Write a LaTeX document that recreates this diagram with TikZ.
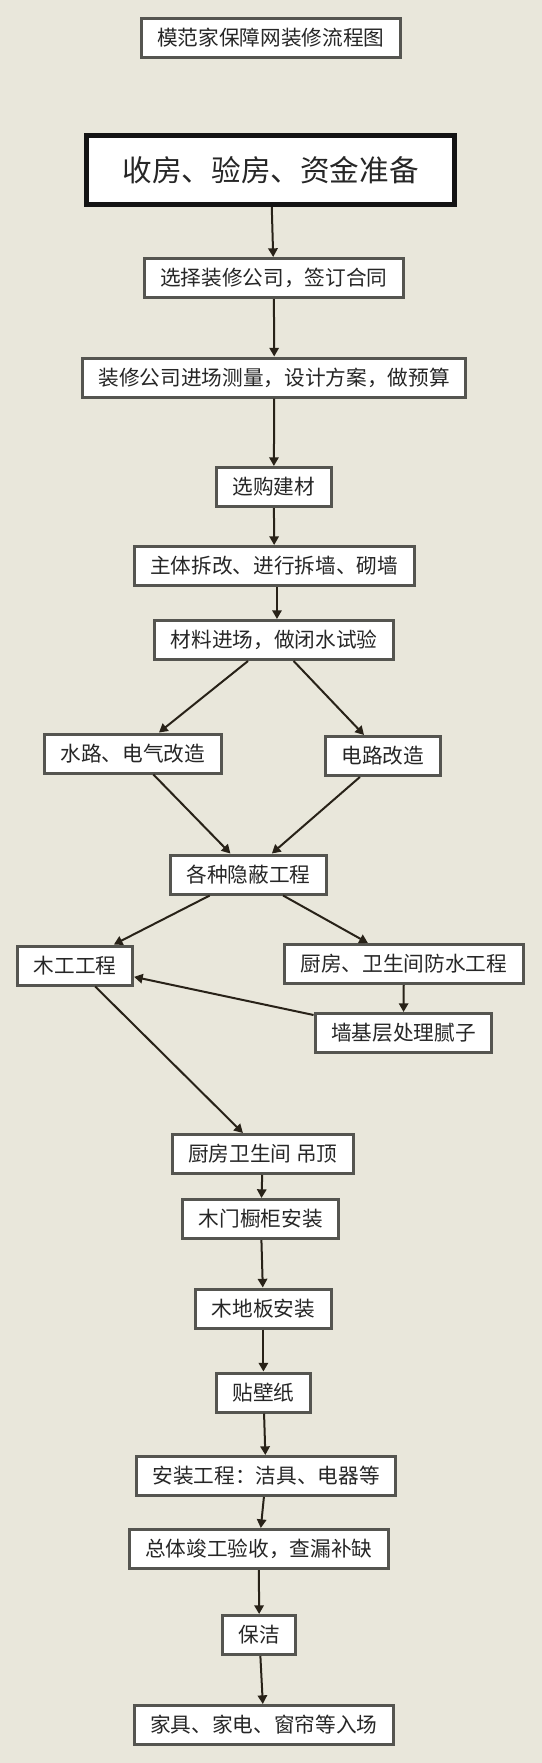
\documentclass[tikz,border=0pt]{standalone}
\usepackage{fontspec}
\setmainfont{Noto Sans CJK SC}
\usetikzlibrary{arrows.meta}
\definecolor{bg}{RGB}{233,231,219}
\definecolor{edge}{RGB}{85,85,80}
\definecolor{arr}{RGB}{40,34,24}
\tikzset{
  box/.style={draw=edge,line width=2.25pt,fill=white,inner xsep=12pt,inner ysep=0pt,
    minimum height=29.25pt,font=\fontsize{15.5pt}{18pt}\selectfont,text=black!85},
  bigbox/.style={box,draw=black!92,line width=3.75pt,inner xsep=27pt,minimum height=51.75pt,
    font=\fontsize{22.2pt}{26pt}\selectfont},
  flow/.style={-{Triangle[width=7pt,length=6.5pt]},draw=arr,line width=1.5pt}
}
\begin{document}
\begin{tikzpicture}[x=0.75pt,y=-0.75pt]
   \fill[bg] (0,0) rectangle (542,1763);
   \useasboundingbox (0,0) rectangle (542,1763);
   \node[box] (biaoti) at (270.7,37.5) {模范家保障网装修流程图};
   \node[bigbox] (shoufang) at (270.7,170) {收房、验房、资金准备};
   \node[box] (xuanze) at (273.8,278) {选择装修公司，签订合同};
   \node[box] (celiang) at (274.3,377.5) {装修公司进场测量，设计方案，做预算};
   \node[box] (jiancai) at (273.8,487) {选购建材};
   \node[box] (chaigai) at (274.3,566) {主体拆改、进行拆墙、砌墙};
   \node[box] (bishui) at (274.3,640) {材料进场，做闭水试验};
   \node[box] (shuilu) at (132.7,753.5) {水路、电气改造};
   \node[box] (dianlu) at (382.7,756) {电路改造};
   \node[box] (yinbi) at (248.4,874.5) {各种隐蔽工程};
   \node[box] (mugong) at (75.2,965.5) {木工工程};
   \node[box] (fangshui) at (403.9,964) {厨房、卫生间防水工程};
   \node[box] (nizi) at (403.4,1033) {墙基层处理腻子};
   \node[box] (diaoding) at (262.9,1154) {厨房卫生间 吊顶};
   \node[box] (mumen) at (260.8,1219) {木门橱柜安装};
   \node[box] (diban) at (263.4,1308.5) {木地板安装};
   \node[box] (bizhi) at (263.4,1392.5) {贴壁纸};
   \node[box] (anzhuang) at (266,1476) {安装工程：洁具、电器等};
   \node[box] (yanshou) at (258.7,1549) {总体竣工验收，查漏补缺};
   \node[box] (baojie) at (259.3,1635) {保洁};
   \node[box] (ruchang) at (263.9,1725) {家具、家电、窗帘等入场};
   \draw[flow] (shoufang) -- (xuanze);
   \draw[flow] (xuanze) -- (celiang);
   \draw[flow] (celiang) -- (jiancai);
   \draw[flow] (jiancai) -- (chaigai);
   \draw[flow] ([xshift=2pt]chaigai.south) -- ([xshift=2pt]bishui.north);
   \draw[flow] ([xshift=-19.7pt]bishui.south) -- ([xshift=19.7pt]shuilu.north);
   \draw[flow] ([xshift=14.5pt]bishui.south) -- ([xshift=-14pt]dianlu.north);
   \draw[flow] ([xshift=15.5pt]shuilu.south) -- ([xshift=-13.5pt]yinbi.north);
   \draw[flow] ([xshift=-17.1pt]dianlu.south) -- ([xshift=17.6pt]yinbi.north);
   \draw[flow] ([xshift=-29pt]yinbi.south) -- ([xshift=29pt]mugong.north);
   \draw[flow] ([xshift=26pt]yinbi.south) -- ([xshift=-27pt]fangshui.north);
   \draw[flow] (fangshui) -- (nizi);
   \draw[flow] ([yshift=13.5pt]nizi.west) -- ([yshift=-8.5pt]mugong.east);
   \draw[flow] ([xshift=15pt]mugong.south) -- ([xshift=-15pt]diaoding.north);
   \draw[flow] (diaoding) -- (mumen);
   \draw[flow] (mumen) -- (diban);
   \draw[flow] (diban) -- (bizhi);
   \draw[flow] (bizhi) -- (anzhuang);
   \draw[flow] (anzhuang) -- (yanshou);
   \draw[flow] (yanshou) -- (baojie);
   \draw[flow] (baojie) -- (ruchang);
\end{tikzpicture}
\end{document}
